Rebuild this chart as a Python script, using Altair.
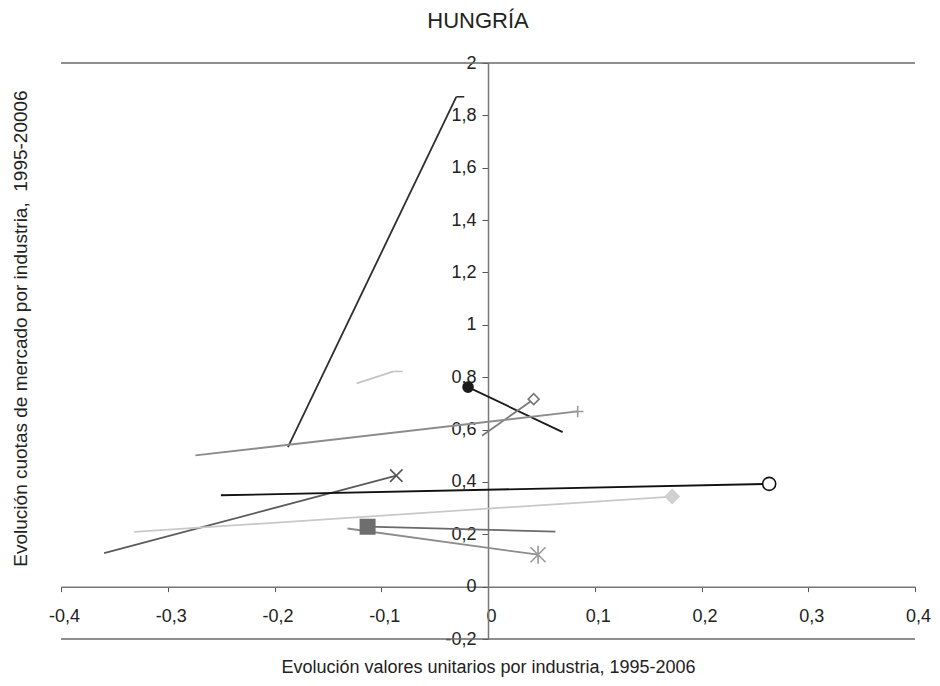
import altair as alt
import pandas as pd

# ---- data ----
series = ["Industria 1", "Industria 2", "Industria 3", "Industria 4", "Industria 5",
          "Industria 6", "Industria 7", "Industria 8", "Industria 9", "Industria 10"]
x_ini = [-0.1874, -0.1230, 0.0699, -0.0056, -0.2741, -0.3596, -0.2502, -0.3315, 0.0631, -0.1316]
y_ini = [0.533, 0.776, 0.590, 0.576, 0.501, 0.128, 0.349, 0.209, 0.210, 0.222]
x_fin = [-0.0297, -0.0885, -0.0187, 0.0428, 0.0840, -0.0859, 0.2634, 0.1725, -0.1128, 0.0469]
y_fin = [1.871, 0.822, 0.762, 0.716, 0.669, 0.424, 0.3925, 0.344, 0.229, 0.122]

x_ticks = [-0.4, -0.3, -0.2, -0.1, 0, 0.1, 0.2, 0.3, 0.4]
y_ticks = [-0.2, 0, 0.2, 0.4, 0.6, 0.8, 1, 1.2, 1.4, 1.6, 1.8, 2]
borders = [-0.2, 2]

# ---- styles ----
line_colors = ["#2e2e2e", "#c4c4c4", "#1a1a1a", "#7a7a7a", "#8c8c8c",
               "#5a5a5a", "#111111", "#c8c8c8", "#6a6a6a", "#8c8c8c"]
line_widths = [1.8, 1.8, 2.0, 1.6, 1.6, 1.8, 2.2, 1.6, 1.8, 1.6]
DASH = "M0,0L2,0"
PLUS = "M-1,0L1,0M0,-1L0,1"
XMARK = "M-1,-1L1,1M-1,1L1,-1"
AST = "M-1,-1L1,1M-1,1L1,-1M0,-1.2L0,1.2"
marker_shapes = [DASH, DASH, "circle", "diamond", PLUS, XMARK, "circle", "diamond", "square", AST]
marker_strokes = ["#2e2e2e", "#c4c4c4", "#1a1a1a", "#777777", "#9a9a9a",
                  "#555555", "#111111", "#d0d0d0", "#6e6e6e", "#9a9a9a"]
marker_fills = ["transparent", "transparent", "#1a1a1a", "white", "transparent",
                "transparent", "white", "#d0d0d0", "#6e6e6e", "transparent"]
marker_sizes = [64, 225, 64, 64, 144, 144, 70, 100, 110, 144]

FONT = "Liberation Sans"
W, H = 854, 576
x_dom = [-0.4, 0.4]
y_dom = [-0.2, 2]
x_off = -H * (0 - y_dom[0]) / (y_dom[1] - y_dom[0])
y_off = -W * (0 - x_dom[0]) / (x_dom[1] - x_dom[0])

df = pd.DataFrame({"serie": series, "x_ini": x_ini, "y_ini": y_ini,
                   "x_fin": x_fin, "y_fin": y_fin})
df_b = pd.DataFrame({"yb": borders})

label_expr = "replace(replace(format(datum.value, '~g'), '.', ','), '\u2212', '-')"

x_scale = alt.Scale(domain=x_dom, nice=False, zero=False)
y_scale = alt.Scale(domain=y_dom, nice=False, zero=False)

X_TITLE = "Evolución valores unitarios por industria, 1995-2006"
Y_TITLE = "Evolución cuotas de mercado por industria,\u00a0 1995-20006"

x_axis = alt.Axis(values=x_ticks, labelExpr=label_expr, offset=x_off, grid=False,
                  domainColor="#777777", domainWidth=1.5, tickColor="#555555",
                  tickSize=5, tickWidth=1, labelFont=FONT, labelFontSize=18,
                  labelColor="#222222", labelPadding=16, labelOffset=3,
                  labelFlush=False, labelOverlap=False, labelBound=False,
                  title=X_TITLE,
                  titleFont=FONT, titleFontSize=18, titleFontWeight="normal",
                  titleColor="#222222", titleX=W / 2, titleY=86,
                  titleAlign="center", titleBaseline="alphabetic")
y_axis = alt.Axis(values=y_ticks, labelExpr=label_expr, offset=y_off, grid=False,
                  domainColor="#777777", domainWidth=1.5, tickColor="#555555",
                  tickSize=6, tickWidth=1, labelFont=FONT, labelFontSize=18,
                  labelColor="#222222", labelPadding=6,
                  labelFlush=False, labelOverlap=False, labelBound=False,
                  title=Y_TITLE,
                  titleFont=FONT, titleFontSize=19, titleFontWeight="normal",
                  titleColor="#222222", titleAngle=270, titleX=-468, titleY=265,
                  titleAlign="center", titleBaseline="middle")

lines = alt.Chart(df).mark_rule(strokeCap="butt").encode(
    x=alt.X("x_ini:Q", scale=x_scale, axis=x_axis, title=X_TITLE),
    x2="x_fin:Q",
    y=alt.Y("y_ini:Q", scale=y_scale, axis=y_axis, title=Y_TITLE),
    y2="y_fin:Q",
    color=alt.Color("serie:N", scale=alt.Scale(domain=series, range=line_colors), legend=None),
    strokeWidth=alt.StrokeWidth("serie:N", scale=alt.Scale(domain=series, range=line_widths), legend=None),
)

markers = alt.Chart(df).mark_point(filled=False, strokeWidth=1.6, opacity=1).encode(
    x=alt.X("x_fin:Q", scale=x_scale, axis=x_axis, title=X_TITLE),
    y=alt.Y("y_fin:Q", scale=y_scale, axis=y_axis, title=Y_TITLE),
    shape=alt.Shape("serie:N", scale=alt.Scale(domain=series, range=marker_shapes), legend=None),
    stroke=alt.Stroke("serie:N", scale=alt.Scale(domain=series, range=marker_strokes), legend=None),
    fill=alt.Fill("serie:N", scale=alt.Scale(domain=series, range=marker_fills), legend=None),
    size=alt.Size("serie:N", scale=alt.Scale(domain=series, range=marker_sizes), legend=None),
)

border_lines = alt.Chart(df_b).mark_rule(color="#6a6a6a", strokeWidth=1.5).encode(
    y=alt.Y("yb:Q", scale=y_scale, axis=y_axis, title=Y_TITLE),
)

chart = alt.layer(lines, markers, border_lines).properties(
    width=W, height=H,
    title=alt.TitleParams("HUNGRÍA", font=FONT, fontSize=22, fontWeight="normal",
                          color="#222222", anchor="middle", dx=-10, offset=21),
    autosize=alt.AutoSizeParams(type="none"),
    padding={"left": 53, "top": 55, "right": 17, "bottom": 38},
).configure(background="white").configure_view(stroke=None)

chart.save("out.html", embed_options={"renderer": "svg", "actions": False})
